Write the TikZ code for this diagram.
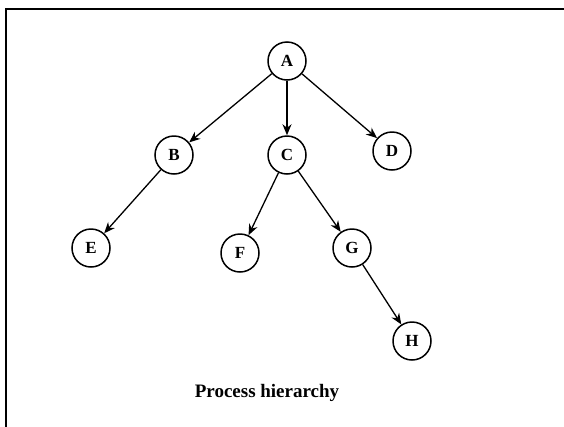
\documentclass[tikz,border=0pt]{standalone}
\usepackage{fontspec}
\setmainfont{Liberation Serif}
\usetikzlibrary{arrows.meta}
\begin{document}
\begin{tikzpicture}[x=1pt,y=-1pt,
  proc/.style={circle,draw,line width=1.5pt,minimum size=38pt,inner sep=0pt,
    font=\fontsize{17}{17}\selectfont\bfseries},
  link/.style={line width=1.3pt,-{Stealth[length=11pt,width=9pt]}}]
  \useasboundingbox (0,0) rectangle (564,426);
  % frame, open to the right and bottom
  \draw[line width=2pt] (6,440) -- (6,9) -- (580,9);
  % processes
  \node[proc] (A) at (287,61) {A};
  \node[proc] (B) at (174,155) {B};
  \node[proc] (C) at (287,155) {C};
  \node[proc] (D) at (392,151) {D};
  \node[proc] (E) at (91,248) {E};
  \node[proc] (F) at (240,253) {F};
  \node[proc] (G) at (352,248) {G};
  \node[proc] (H) at (412,341) {H};
  % parent-child links
  \draw[link] (A) -- (B);
  \draw[link] (A) -- (C);
  \draw[link] (A) -- (D);
  \draw[link] (B) -- (E);
  \draw[link] (C) -- (F);
  \draw[link] (C) -- (G);
  \draw[link] (G) -- (H);
  \node[font=\fontsize{19}{19}\selectfont\bfseries] (title) at (267,393) {Process hierarchy};
\end{tikzpicture}
\end{document}
